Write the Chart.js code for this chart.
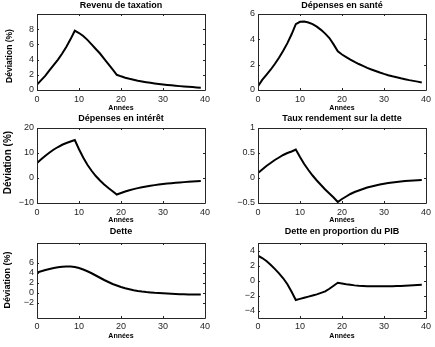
<!DOCTYPE html>
<html>
<head>
<meta charset="utf-8">
<script src="https://cdn.jsdelivr.net/npm/chart.js@4/dist/chart.umd.min.js"></script>
<style>
  body { margin: 0; background: #fff; width: 435px; height: 347px; position: relative; overflow: hidden; }
  canvas { position: absolute; }
</style>
</head>
<body>
<canvas id="p1"></canvas>
<canvas id="p2"></canvas>
<canvas id="p3"></canvas>
<canvas id="p4"></canvas>
<canvas id="p5"></canvas>
<canvas id="p6"></canvas>
<script>
// years after the shock
const years = [0, 1, 2, 3, 4, 5, 6, 7, 8, 9, 10, 11, 12, 13, 14, 15, 16, 17, 18, 19,
               20, 21, 22, 23, 24, 25, 26, 27, 28, 29, 30, 31, 32, 33, 34, 35, 36, 37, 38, 39];

// deviations (%)
const revenu = [0.7, 1.3, 1.9, 2.6, 3.3, 4.0, 4.8, 5.7, 6.7, 7.8, 7.5, 7.1, 6.6, 6.0, 5.4, 4.8, 4.1, 3.4, 2.7, 2.0,
                1.8, 1.62, 1.47, 1.34, 1.22, 1.12, 1.03, 0.95, 0.87, 0.8, 0.73, 0.67, 0.61, 0.56, 0.51, 0.46, 0.42, 0.38, 0.34, 0.31];
const sante = [0.3, 0.8, 1.2, 1.6, 2.05, 2.55, 3.1, 3.7, 4.4, 5.2, 5.38, 5.4, 5.33, 5.2, 5.0, 4.75, 4.45, 4.1, 3.6, 3.05,
               2.8, 2.6, 2.4, 2.22, 2.05, 1.9, 1.75, 1.62, 1.5, 1.38, 1.27, 1.17, 1.08, 1.0, 0.92, 0.85, 0.78, 0.72, 0.66, 0.6];
const interet = [6.0, 7.5, 8.9, 10.2, 11.4, 12.4, 13.3, 14.0, 14.6, 15.2, 11.5, 8.2, 5.3, 2.9, 0.8, -1.0, -2.6, -4.0, -5.3, -6.6,
                 -6.0, -5.4, -4.9, -4.45, -4.05, -3.7, -3.38, -3.1, -2.85, -2.62, -2.42, -2.24, -2.07, -1.92, -1.78, -1.65, -1.53, -1.42, -1.32, -1.22];
const taux = [0.1, 0.17, 0.24, 0.3, 0.36, 0.41, 0.46, 0.5, 0.53, 0.57, 0.42, 0.28, 0.16, 0.05, -0.05, -0.14, -0.23, -0.31, -0.39, -0.48,
              -0.42, -0.37, -0.32, -0.28, -0.25, -0.22, -0.19, -0.17, -0.15, -0.13, -0.115, -0.1, -0.09, -0.08, -0.07, -0.06, -0.055, -0.05, -0.045, -0.04];
const dette = [4.1, 4.35, 4.6, 4.8, 5.0, 5.15, 5.25, 5.3, 5.3, 5.2, 5.0, 4.7, 4.35, 3.95, 3.5, 3.05, 2.6, 2.2, 1.8, 1.5,
               1.2, 0.95, 0.75, 0.55, 0.4, 0.28, 0.18, 0.1, 0.03, -0.02, -0.07, -0.12, -0.16, -0.2, -0.23, -0.26, -0.28, -0.3, -0.31, -0.32];
const dettePib = [3.3, 3.0, 2.6, 2.1, 1.55, 0.95, 0.3, -0.5, -1.5, -2.6, -2.45, -2.3, -2.15, -2.0, -1.85, -1.65, -1.45, -1.1, -0.7, -0.3,
                  -0.4, -0.5, -0.58, -0.65, -0.7, -0.73, -0.76, -0.77, -0.78, -0.78, -0.78, -0.77, -0.76, -0.74, -0.72, -0.69, -0.66, -0.63, -0.6, -0.57];

// tick labels
const xTicks = [0, 10, 20, 30, 40];
const revenuTicks = [0, 2, 4, 6, 8];
const santeTicks = [0, 2, 4, 6];
const interetTicks = [-10, 0, 10, 20];
const tauxTicks = [-0.5, 0, 0.5, 1];
const detteTicks = [-2, 0, 2, 4, 6];
const dettePibTicks = [-4, -2, 0, 2, 4];

const FONT = '"Liberation Sans", Arial, Helvetica, sans-serif';
const AXIS = '#262626';

// canvas placement and plot box per row / column
const cols = [
  { left: 0, width: 215, plotLeft: 37, plotRight: 205, titleX: 121 },
  { left: 215, width: 220, plotLeft: 43, plotRight: 211, titleX: 127 }
];
const rows = [
  { top: 0, height: 114, plotTop: 14, plotBottom: 90, titleY: 5.5, xlabY: 108.5, tickPad: 4, ylabX: 10, ylabY: 56, ylabSize: 8.5 },
  { top: 110, height: 116, plotTop: 18, plotBottom: 93, titleY: 8.7, xlabY: 110.5, tickPad: 4, ylabX: 8, ylabY: 52.5, ylabSize: 10 },
  { top: 225, height: 122, plotTop: 18, plotBottom: 93, titleY: 6.7, xlabY: 111, tickPad: 3, ylabX: 8, ylabY: 55, ylabSize: 9 }
];

const panels = [
  { id: 'p1', title: 'Revenu de taxation', values: revenu, yTicks: revenuTicks, min: 0, max: 10, row: 0, col: 0 },
  { id: 'p2', title: 'Dépenses en santé', values: sante, yTicks: santeTicks, min: 0, max: 6, row: 0, col: 1 },
  { id: 'p3', title: 'Dépenses en intérêt', values: interet, yTicks: interetTicks, min: -10, max: 20, row: 1, col: 0 },
  { id: 'p4', title: 'Taux rendement sur la dette', values: taux, yTicks: tauxTicks, min: -0.5, max: 1, row: 1, col: 1 },
  { id: 'p5', title: 'Dette', values: dette, yTicks: detteTicks, min: -5, max: 10, row: 2, col: 0 },
  { id: 'p6', title: 'Dette en proportion du PIB', values: dettePib, yTicks: dettePibTicks, min: -5, max: 5, row: 2, col: 1 }
];

function fmt(v) {
  return String(v).replace('-', '\u2212');
}

// box, inward ticks, title and axis labels, matlab style
const decor = {
  id: 'decor',
  afterDatasetsDraw(chart, args, opts) {
    const { ctx, chartArea: a } = chart;
    const xs = chart.scales.x, ys = chart.scales.y;
    ctx.save();
    ctx.strokeStyle = AXIS;
    ctx.lineWidth = 1;
    ctx.beginPath();
    ctx.rect(Math.round(a.left) + 0.5, Math.round(a.top) + 0.5, Math.round(a.right - a.left), Math.round(a.bottom - a.top));
    xs.ticks.forEach(t => {
      const px = Math.round(xs.getPixelForValue(t.value)) + 0.5;
      ctx.moveTo(px, a.bottom); ctx.lineTo(px, a.bottom - 2);
      ctx.moveTo(px, a.top); ctx.lineTo(px, a.top + 2);
    });
    ys.ticks.forEach(t => {
      const py = Math.round(ys.getPixelForValue(t.value)) + 0.5;
      ctx.moveTo(a.left, py); ctx.lineTo(a.left + 2, py);
      ctx.moveTo(a.right, py); ctx.lineTo(a.right - 2, py);
    });
    ctx.stroke();

    ctx.fillStyle = '#000';
    ctx.textAlign = 'center';
    ctx.textBaseline = 'middle';
    ctx.font = 'bold 9px ' + FONT;
    ctx.fillText(opts.title, (a.left + a.right) / 2, opts.titleY);
    ctx.font = 'bold 7px ' + FONT;
    ctx.fillText('Années', (a.left + a.right) / 2, opts.xlabY);
    if (opts.ylabel) {
      ctx.translate(opts.ylabX, opts.ylabY);
      ctx.rotate(-Math.PI / 2);
      ctx.font = 'bold ' + opts.ylabSize + 'px ' + FONT;
      ctx.fillText('Déviation (%)', 0, 0);
    }
    ctx.restore();
  }
};

panels.forEach(p => {
  const r = rows[p.row], c = cols[p.col];
  const cv = document.getElementById(p.id);
  cv.width = c.width;
  cv.height = r.height;
  cv.style.left = c.left + 'px';
  cv.style.top = r.top + 'px';

  new Chart(cv, {
    type: 'line',
    data: {
      datasets: [{
        data: years.map((x, i) => ({ x: x, y: p.values[i] })),
        borderColor: '#000',
        borderWidth: 2,
        pointRadius: 0,
        tension: 0,
        fill: false
      }]
    },
    options: {
      responsive: false,
      animation: false,
      events: [],
      layout: { padding: { top: r.plotTop, right: c.width - c.plotRight, left: 0, bottom: 0 } },
      plugins: {
        legend: { display: false },
        tooltip: { enabled: false },
        decor: {
          title: p.title, titleY: r.titleY, xlabY: r.xlabY,
          ylabel: p.col === 0, ylabX: r.ylabX, ylabY: r.ylabY, ylabSize: r.ylabSize
        }
      },
      scales: {
        x: {
          type: 'linear', min: 0, max: 40,
          grid: { display: false, drawTicks: false },
          border: { display: false },
          afterBuildTicks: s => { s.ticks = xTicks.map(v => ({ value: v })); },
          afterFit: s => { s.height = r.height - r.plotBottom; },
          ticks: { padding: r.tickPad, color: AXIS, font: { family: FONT, size: 9 }, maxRotation: 0, callback: v => fmt(v) }
        },
        y: {
          type: 'linear', min: p.min, max: p.max,
          grid: { display: false, drawTicks: false },
          border: { display: false },
          afterBuildTicks: s => { s.ticks = p.yTicks.map(v => ({ value: v })); },
          afterFit: s => { s.width = c.plotLeft; },
          ticks: { padding: 3, color: AXIS, font: { family: FONT, size: 9 }, callback: v => fmt(v) }
        }
      }
    },
    plugins: [decor]
  });
});
</script>
</body>
</html>
